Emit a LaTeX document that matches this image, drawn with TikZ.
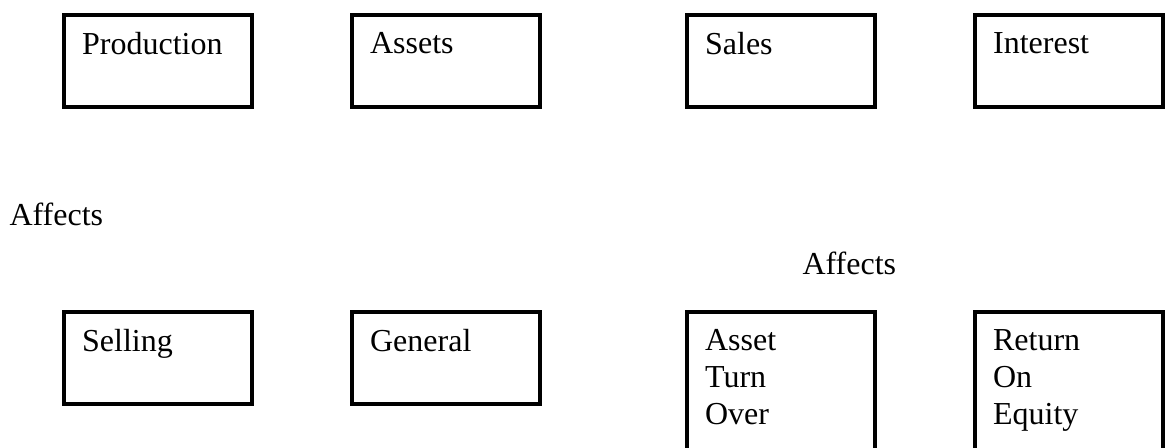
\documentclass[tikz,border=0pt]{standalone}
\usepackage{fontspec}
\setmainfont{Liberation Serif}
\begin{document}
\begin{tikzpicture}[x=0.375pt, y=-0.375pt,
    box/.style={draw, line width=1.5pt, rectangle, anchor=north west, outer sep=0pt, inner sep=0pt, minimum width=70.5pt, minimum height=34.5pt},
    tallbox/.style={box, minimum height=60pt},
    boxtext/.style={anchor=north west, align=left, inner sep=0pt, xshift=6.6pt, yshift=-6.4pt, font=\fontsize{12}{13.9}\selectfont},
    note/.style={anchor=base west, inner sep=0pt, font=\fontsize{12}{13.9}\selectfont}]
    \useasboundingbox (0,0) rectangle (1166,448);

    % Top row
    \node[box, label={[boxtext]north west:Production}] (production) at (64,15) {};
    \node[box, label={[boxtext]north west:Assets}] (assets) at (352,15) {};
    \node[box, label={[boxtext]north west:Sales}] (sales) at (687,15) {};
    \node[box, label={[boxtext]north west:Interest}] (interest) at (975,15) {};

    % Free text
    \node[note] (affectsA) at (9,226) {Affects};
    \node[note] (affectsB) at (802,275) {Affects};

    % Bottom row
    \node[box, label={[boxtext]north west:Selling}] (selling) at (64,312) {};
    \node[box, label={[boxtext]north west:General}] (general) at (352,312) {};
    \node[tallbox, label={[boxtext]north west:{Asset\\Turn\\Over}}] (turnover) at (687,312) {};
    \node[tallbox, label={[boxtext]north west:{Return\\On\\Equity}}] (roe) at (975,312) {};
\end{tikzpicture}
\end{document}
